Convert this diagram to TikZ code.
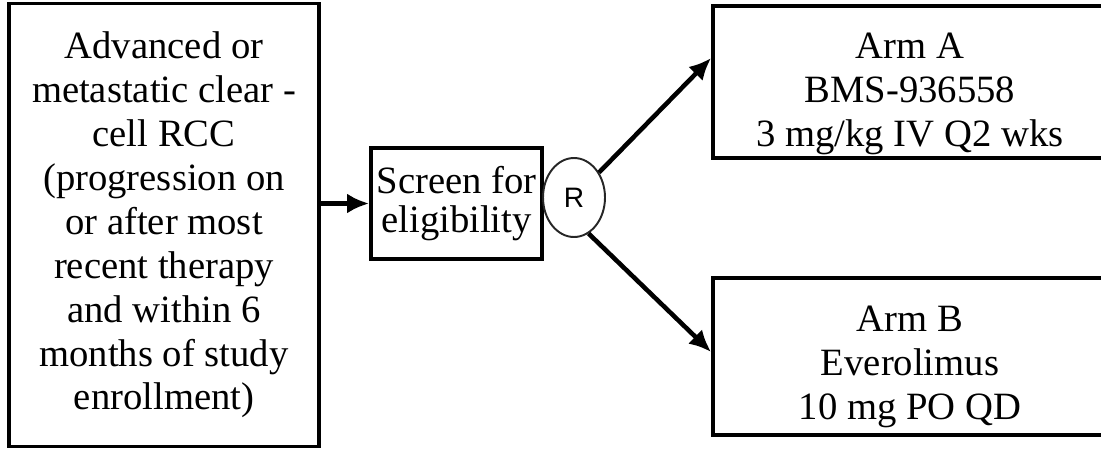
\documentclass[tikz,border=0pt]{standalone}
\usepackage{fontspec}
\setmainfont{Liberation Serif}
\newfontfamily\randfont{Liberation Sans}
\usetikzlibrary{arrows.meta,shapes.geometric}

\tikzset{
  box/.style = {draw, line width=2.2pt, align=center, inner sep=0pt,
                font=\fontsize{22}{25}\selectfont},
  randnode/.style = {draw=black!85, ellipse, line width=1.1pt, inner sep=0pt,
                     minimum width=1.24cm, minimum height=1.58cm,
                     font=\randfont\fontsize{16}{18}\selectfont},
  flow/.style = {line width=2.6pt, -{Latex[length=0.44cm,width=0.4cm]}},
}

\begin{document}
\begin{tikzpicture}[x=0.02cm, y=-0.02cm]
  \clip (0,0) rectangle (1101,450);

  % patients, screening and randomisation
  \node[box, minimum width=6.2cm, minimum height=8.86cm] (cohort) at (164,225)
    {Advanced or\\ metastatic clear -\\ cell RCC\\ (progression on\\ or after most\\
     recent therapy\\ and within 6\\ months of study\\ enrollment)};
  \node[box, minimum width=3.42cm, minimum height=2.22cm,
        font=\fontsize{22}{22}\selectfont] (screen) at (456.5,203.5)
    {Screen for\\ eligibility};
  \node[randnode] (rand) at (574,197.5) {R};

  % treatment arms (strut drops the text a little in the box)
  \node[box, minimum width=7.88cm, minimum height=3.04cm] (armA) at (910,82)
    {\rule{0pt}{28pt}Arm A\\ BMS-936558\\ 3 mg/kg IV Q2 wks};
  \node[box, minimum width=7.88cm, minimum height=3.14cm] (armB) at (910,356.5)
    {\rule{0pt}{26pt}Arm B\\ Everolimus\\ 10 mg PO QD};

  \draw[flow] (cohort.east |- screen.west) -- (screen.west);
  \draw[flow] (rand.45) -- ([yshift=0.48cm]armA.west);
  \draw[flow] (rand.-68) -- ([yshift=0.09cm]armB.west);
\end{tikzpicture}
\end{document}
